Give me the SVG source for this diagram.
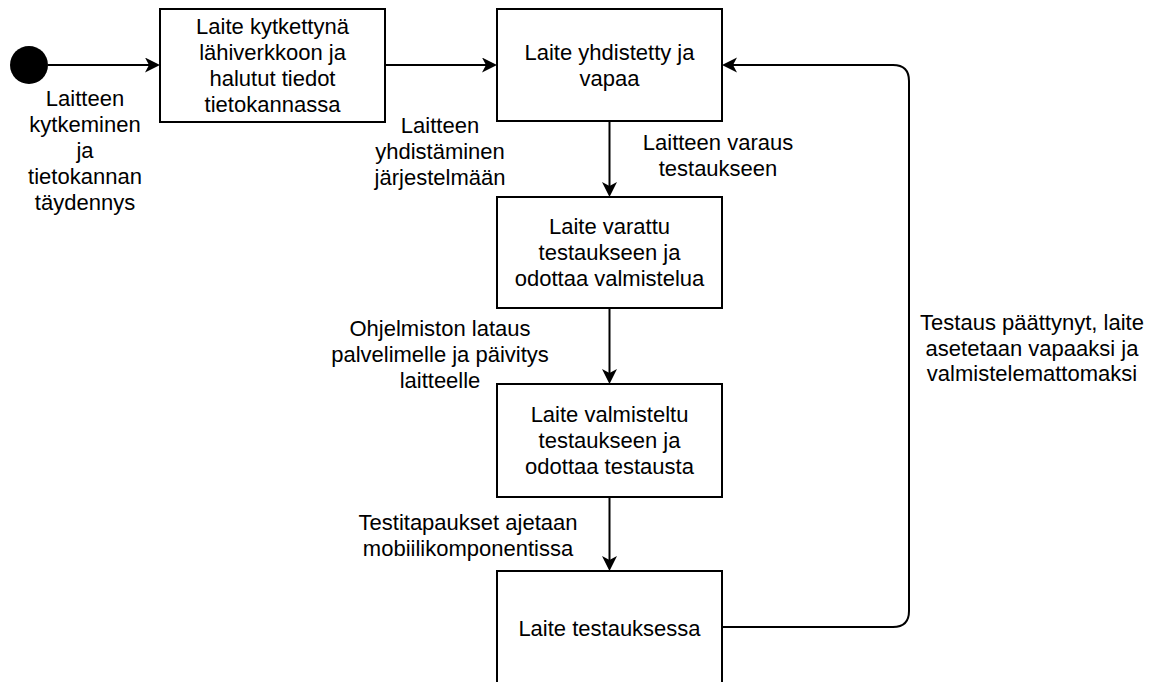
<svg xmlns="http://www.w3.org/2000/svg" width="1154" height="682" viewBox="0 0 1154 682">
  <style>
    .state { fill: #ffffff; stroke: #000000; stroke-width: 2; }
    .edge { fill: none; stroke: #000000; stroke-width: 2; }
    text { font-family: "Liberation Sans", Arial, sans-serif; font-size: 22px; fill: #000000; text-anchor: middle; }
  </style>
  <defs>
    <marker id="arrow" markerUnits="userSpaceOnUse" markerWidth="16" markerHeight="16" refX="4" refY="7.5" orient="auto">
      <path d="M0,0 L15,7.5 L0,15 L4,7.5 Z" fill="#000000"/>
    </marker>
  </defs>

  <!-- transitions -->
  <g id="connectors">
    <path class="edge" d="M48,65 H149" marker-end="url(#arrow)"/>
    <path class="edge" d="M385,65 H486" marker-end="url(#arrow)"/>
    <path class="edge" d="M609.5,121 V186" marker-end="url(#arrow)"/>
    <path class="edge" d="M609.5,308 V373" marker-end="url(#arrow)"/>
    <path class="edge" d="M609.5,497 V560" marker-end="url(#arrow)"/>
    <path class="edge" d="M722,627 H893 Q909,627 909,611 V81 Q909,65 893,65 H733" marker-end="url(#arrow)"/>
  </g>

  <!-- transition labels -->
  <g id="labels">
    <text x="85"><tspan x="85" y="106">Laitteen</tspan><tspan x="85" y="132">kytkeminen</tspan><tspan x="85" y="158">ja</tspan><tspan x="85" y="184">tietokannan</tspan><tspan x="85" y="210">täydennys</tspan></text>
    <text x="440"><tspan x="440" y="133">Laitteen</tspan><tspan x="440" y="159">yhdistäminen</tspan><tspan x="440" y="185">järjestelmään</tspan></text>
    <text x="718"><tspan x="718" y="150">Laitteen varaus</tspan><tspan x="718" y="176">testaukseen</tspan></text>
    <text x="440"><tspan x="440" y="336">Ohjelmiston lataus</tspan><tspan x="440" y="362">palvelimelle ja päivitys</tspan><tspan x="440" y="388">laitteelle</tspan></text>
    <text x="468"><tspan x="468" y="530">Testitapaukset ajetaan</tspan><tspan x="468" y="556">mobiilikomponentissa</tspan></text>
    <text x="1032"><tspan x="1032" y="330">Testaus päättynyt, laite</tspan><tspan x="1032" y="356">asetetaan vapaaksi ja</tspan><tspan x="1032" y="381">valmistelemattomaksi</tspan></text>
  </g>

  <!-- initial state -->
  <g id="start">
    <circle cx="29" cy="65" r="19" fill="#000000"/>
  </g>

  <g id="connected-to-lan">
    <rect class="state" x="160" y="9" width="225" height="113"/>
    <text><tspan x="272.5" y="34">Laite kytkettynä</tspan><tspan x="272.5" y="60">lähiverkkoon ja</tspan><tspan x="272.5" y="86">halutut tiedot</tspan><tspan x="272.5" y="112">tietokannassa</tspan></text>
  </g>

  <g id="connected-free">
    <rect class="state" x="497" y="9" width="225" height="112"/>
    <text><tspan x="609.5" y="60">Laite yhdistetty ja</tspan><tspan x="609.5" y="86">vapaa</tspan></text>
  </g>

  <g id="reserved">
    <rect class="state" x="497" y="197" width="225" height="111"/>
    <text><tspan x="609.5" y="234">Laite varattu</tspan><tspan x="609.5" y="260">testaukseen ja</tspan><tspan x="609.5" y="286">odottaa valmistelua</tspan></text>
  </g>

  <g id="prepared">
    <rect class="state" x="497" y="384" width="225" height="113"/>
    <text><tspan x="609.5" y="422">Laite valmisteltu</tspan><tspan x="609.5" y="448">testaukseen ja</tspan><tspan x="609.5" y="474">odottaa testausta</tspan></text>
  </g>

  <g id="testing">
    <rect class="state" x="497" y="571" width="225" height="113"/>
    <text><tspan x="609.5" y="636">Laite testauksessa</tspan></text>
  </g>
</svg>
